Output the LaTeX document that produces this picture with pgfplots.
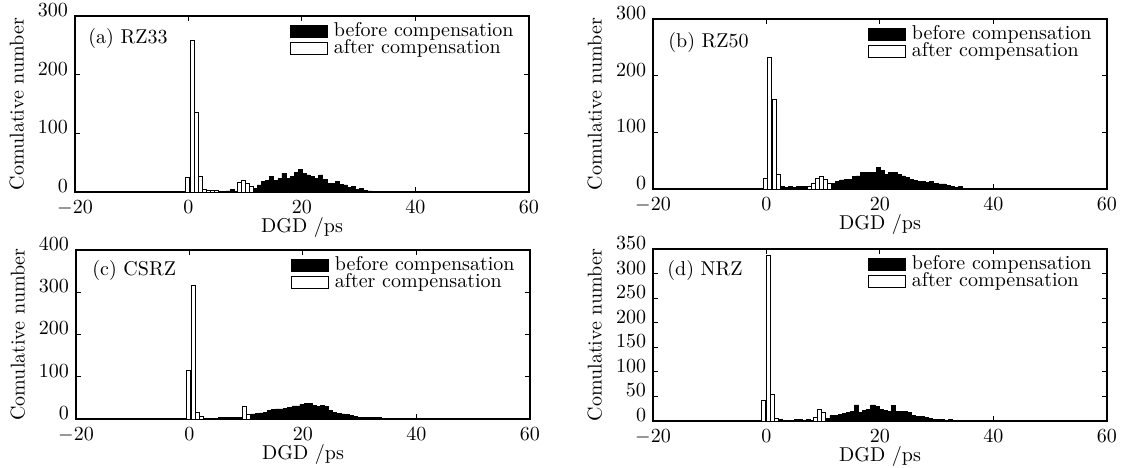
\documentclass[border=0pt]{standalone}
\usepackage{pgfplots}
\pgfplotsset{compat=1.18}

\pgfplotsset{
  dgd/.style={
    scale only axis, width=227pt, anchor=north west,
    xmin=-20, xmax=60, xtick={-20,0,20,40,60},
    ymin=0,
    axis line style={line width=0.6pt},
    tick style={line width=0.5pt, black},
    major tick length=2.5pt,
    tick align=inside,
    xticklabel style={inner sep=1pt, yshift=-3.3pt},
    yticklabel style={inner sep=1pt, xshift=-2.3pt, yshift=3pt},
    xlabel={DGD /ps}, ylabel={Comulative number},
    ylabel style={at={(axis description cs:-0.128,0.5)}, anchor=center},
    xlabel style={at={(axis description cs:0.5,0)}, anchor=center, yshift=-17.8pt},
    legend style={draw=none, fill=none, at={(1,1)}, anchor=north east,
      xshift=-4.5pt, yshift=-1pt, nodes={inner sep=0pt}, row sep=0pt, column sep=3pt},
    legend cell align=left,
  },
  bef/.style={ybar, bar width=0.72, bar shift=0pt, fill=black, draw=black, line width=0.3pt,
    legend image code/.code={\draw[fill=black, draw=black, line width=0.4pt] (0pt,-3pt) rectangle (18.5pt,3pt);}},
  aft/.style={ybar, bar width=0.72, bar shift=0pt, fill=white, draw=black, line width=0.4pt,
    legend image code/.code={\draw[fill=white, draw=black, line width=0.4pt] (0pt,-3pt) rectangle (18.5pt,3pt);}},
}

\begin{document}
\begin{tikzpicture}
\useasboundingbox (0,0) rectangle (566pt,-233.5pt);

% (a) RZ33
\begin{axis}[dgd, at={(37.5pt,-8pt)}, height=88pt, ymax=300, ytick={0,100,200,300}]
\addplot[bef] coordinates {
  (7.0,2) (7.72,4)
  (11.78,6) (12.50,12) (13.22,18) (13.94,20) (14.66,27) (15.38,20) (16.10,23)
  (16.82,32) (17.54,23) (18.26,26) (18.98,34) (19.70,39) (20.42,32) (21.14,29)
  (21.86,26) (22.58,23) (23.30,29) (24.02,22) (24.74,15) (25.46,15) (26.18,18)
  (26.90,13) (27.62,12) (28.34,8) (29.06,9) (29.78,5) (30.50,6) (31.22,3) (31.94,2)
};
\addplot[aft] coordinates {
  (-0.12,25) (0.62,258) (1.32,136) (2.03,26) (2.73,5) (3.44,2) (4.14,2) (4.85,2)
  (9.02,16) (9.72,19) (10.43,15) (11.10,9)
};
\legend{before compensation, after compensation}
\node[anchor=north west, inner sep=0pt, xshift=6.5pt, yshift=-6pt] at (rel axis cs:0,1) {(a) RZ33};
\end{axis}

% (b) RZ50
\begin{axis}[dgd, at={(326.5pt,-9.5pt)}, height=85pt, ymax=300, ytick={0,100,200,300}]
\addplot[bef] coordinates {
  (2.8,4) (3.5,3) (4.2,4) (4.9,3) (5.6,5) (6.3,5) (7.0,5)
  (11.83,10) (12.55,13) (13.27,16) (13.99,17) (14.71,17) (15.43,22) (16.15,23)
  (16.87,30) (17.59,29) (18.31,30) (19.03,29) (19.75,38) (20.47,33) (21.19,26)
  (21.91,29) (22.63,29) (23.35,26) (24.07,23) (24.79,21) (25.51,17) (26.23,15)
  (26.95,14) (27.67,14) (28.39,12) (29.11,13) (29.83,10) (30.55,9) (31.27,9)
  (31.99,6) (32.71,5) (33.43,3) (34.15,5)
};
\addplot[aft] coordinates {
  (-0.18,19) (0.59,232) (1.35,158) (2.08,26)
  (7.60,5) (8.31,10) (9.01,19) (9.72,22) (10.42,17) (11.13,10)
};
\legend{before compensation, after compensation}
\node[anchor=north west, inner sep=0pt, xshift=7.5pt, yshift=-6.5pt] at (rel axis cs:0,1) {(b) RZ50};
\end{axis}

% (c) CSRZ
\begin{axis}[dgd, at={(38pt,-125pt)}, height=84.5pt, ymax=400, ytick={0,100,200,300,400}]
\addplot[bef] coordinates {
  (5.44,3) (6.16,3) (6.88,3) (7.60,3) (8.32,3) (9.04,3)
  (11.19,12) (11.91,13) (12.63,14.5) (13.35,15.5) (14.07,20) (14.79,23) (15.51,24)
  (16.23,24) (16.95,25) (17.67,28) (18.39,31) (19.11,31) (19.83,35) (20.55,37)
  (21.27,37) (21.99,33) (22.71,29) (23.43,33) (24.15,29) (24.87,20) (25.59,15)
  (26.31,13) (27.03,12) (27.75,10) (28.47,9) (29.19,7) (29.91,4) (30.63,3)
  (31.35,3) (32.07,3) (32.79,3) (33.51,3)
};
\addplot[aft] coordinates {
  (-0.12,116) (0.65,316) (1.41,15) (2.14,5) (2.85,2)
  (9.69,29) (10.46,12)
};
\legend{before compensation, after compensation}
\node[anchor=north west, inner sep=0pt, xshift=8pt, yshift=-5pt] at (rel axis cs:0,1) {(c) CSRZ};
\end{axis}

% (d) NRZ
\begin{axis}[dgd, at={(326.5pt,-124.5pt)}, height=86pt, ymax=350, ytick={0,50,...,350}]
\addplot[bef] coordinates {
  (2.5,3) (3.2,2) (3.9,2) (4.6,2) (5.3,3) (6.0,3) (6.7,2) (7.4,3)
  (10.82,5) (11.54,11) (12.26,12) (12.98,13.5) (13.70,16) (14.42,17.6) (15.14,19)
  (15.86,32.6) (16.58,17.6) (17.30,22) (18.02,24.4) (18.74,32.6) (19.46,29) (20.18,24.4)
  (20.90,22) (21.62,20) (22.34,31) (23.06,19) (23.78,20) (24.50,20) (25.22,17.6)
  (25.94,12) (26.66,9) (27.38,9) (28.10,7) (28.82,5.4) (29.54,4) (30.26,2.7)
  (30.98,3) (31.70,1.4) (32.42,2.7) (33.14,1.4) (33.86,1.4) (34.58,1.4) (35.30,1)
  (36.02,1) (36.74,1)
};
\addplot[aft] coordinates {
  (-0.47,41) (0.29,336) (1.06,55) (1.76,5)
  (8.60,8) (9.34,24) (10.10,18)
};
\legend{before compensation, after compensation}
\node[anchor=north west, inner sep=0pt, xshift=7pt, yshift=-5.5pt] at (rel axis cs:0,1) {(d) NRZ};
\end{axis}
\end{tikzpicture}
\end{document}
